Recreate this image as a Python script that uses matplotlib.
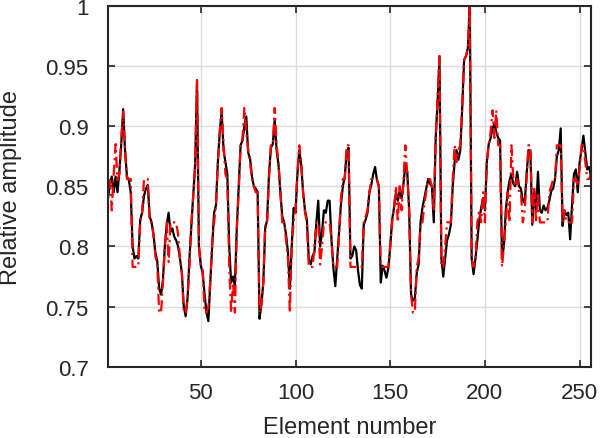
import matplotlib
matplotlib.use("Agg")
from matplotlib import pyplot as plt

plt.rcParams['font.family'] = ['Liberation Sans', 'DejaVu Sans']

# amplitude per element, black = reference, red = quantized
amp_ref = [
    0.840, 0.852, 0.858, 0.845, 0.858, 0.845, 0.862, 0.885, 0.914, 0.880,
    0.858, 0.855, 0.845, 0.800, 0.790, 0.792, 0.790, 0.822, 0.828, 0.842,
    0.848, 0.851, 0.825, 0.820, 0.810, 0.795, 0.788, 0.765, 0.760, 0.772,
    0.800, 0.818, 0.828, 0.812, 0.815, 0.808, 0.805, 0.800, 0.790, 0.778,
    0.750, 0.742, 0.757, 0.790, 0.817, 0.842, 0.868, 0.938, 0.800, 0.784,
    0.778, 0.760, 0.745, 0.738, 0.770, 0.800, 0.828, 0.834, 0.870, 0.895,
    0.912, 0.880, 0.870, 0.860, 0.800, 0.770, 0.775, 0.768, 0.815, 0.850,
    0.884, 0.888, 0.900, 0.908, 0.878, 0.873, 0.858, 0.850, 0.848, 0.845,
    0.740, 0.752, 0.770, 0.815, 0.822, 0.860, 0.882, 0.885, 0.905, 0.880,
    0.868, 0.845, 0.825, 0.820, 0.810, 0.795, 0.765, 0.800, 0.832, 0.828,
    0.860, 0.880, 0.868, 0.845, 0.830, 0.822, 0.790, 0.785, 0.792, 0.795,
    0.820, 0.838, 0.800, 0.812, 0.830, 0.828, 0.838, 0.838, 0.805, 0.782,
    0.767, 0.790, 0.812, 0.835, 0.850, 0.858, 0.878, 0.882, 0.790, 0.792,
    0.800, 0.797, 0.780, 0.768, 0.765, 0.818, 0.822, 0.828, 0.845, 0.851,
    0.860, 0.866, 0.855, 0.850, 0.770, 0.784, 0.780, 0.774, 0.782, 0.800,
    0.822, 0.832, 0.845, 0.838, 0.846, 0.840, 0.852, 0.868, 0.862, 0.830,
    0.760, 0.755, 0.757, 0.778, 0.785, 0.820, 0.832, 0.840, 0.848, 0.856,
    0.852, 0.850, 0.820, 0.890, 0.920, 0.958, 0.790, 0.775, 0.790, 0.805,
    0.810, 0.818, 0.850, 0.870, 0.880, 0.872, 0.880, 0.915, 0.955, 0.958,
    0.965, 1.000, 0.790, 0.777, 0.790, 0.805, 0.822, 0.832, 0.840, 0.830,
    0.870, 0.885, 0.890, 0.898, 0.902, 0.895, 0.890, 0.888, 0.790, 0.800,
    0.830, 0.845, 0.855, 0.860, 0.852, 0.850, 0.862, 0.850, 0.848, 0.838,
    0.836, 0.860, 0.880, 0.878, 0.818, 0.846, 0.830, 0.862, 0.830, 0.828,
    0.834, 0.830, 0.832, 0.838, 0.846, 0.848, 0.856, 0.875, 0.880, 0.898,
    0.817, 0.830, 0.826, 0.828, 0.806, 0.835, 0.860, 0.864, 0.845, 0.870,
    0.880, 0.892, 0.878, 0.864, 0.866, 0.858,
]

amp_quant = [
    0.855, 0.855, 0.830, 0.860, 0.885, 0.855, 0.860, 0.890, 0.912, 0.880,
    0.856, 0.856, 0.856, 0.783, 0.783, 0.783, 0.783, 0.820, 0.828, 0.856,
    0.856, 0.856, 0.820, 0.820, 0.810, 0.792, 0.785, 0.745, 0.745, 0.770,
    0.800, 0.820, 0.787, 0.820, 0.820, 0.820, 0.820, 0.810, 0.790, 0.778,
    0.745, 0.745, 0.757, 0.783, 0.820, 0.842, 0.868, 0.938, 0.800, 0.784,
    0.780, 0.745, 0.745, 0.750, 0.772, 0.805, 0.820, 0.834, 0.870, 0.895,
    0.915, 0.885, 0.860, 0.856, 0.783, 0.745, 0.770, 0.745, 0.815, 0.845,
    0.884, 0.890, 0.915, 0.895, 0.880, 0.870, 0.856, 0.850, 0.845, 0.845,
    0.745, 0.752, 0.770, 0.820, 0.820, 0.856, 0.884, 0.884, 0.915, 0.884,
    0.870, 0.845, 0.820, 0.820, 0.805, 0.790, 0.745, 0.800, 0.820, 0.830,
    0.862, 0.884, 0.870, 0.845, 0.828, 0.820, 0.783, 0.783, 0.783, 0.800,
    0.820, 0.820, 0.785, 0.800, 0.820, 0.820, 0.820, 0.820, 0.805, 0.783,
    0.783, 0.783, 0.810, 0.840, 0.856, 0.856, 0.884, 0.884, 0.783, 0.783,
    0.783, 0.783, 0.783, 0.783, 0.783, 0.820, 0.825, 0.830, 0.845, 0.856,
    0.856, 0.856, 0.856, 0.850, 0.783, 0.783, 0.783, 0.783, 0.783, 0.800,
    0.820, 0.832, 0.850, 0.820, 0.850, 0.830, 0.856, 0.884, 0.860, 0.830,
    0.760, 0.745, 0.745, 0.783, 0.790, 0.820, 0.820, 0.835, 0.845, 0.856,
    0.856, 0.850, 0.830, 0.890, 0.925, 0.958, 0.783, 0.783, 0.800, 0.820,
    0.820, 0.820, 0.856, 0.884, 0.870, 0.880, 0.884, 0.915, 0.955, 0.958,
    0.965, 1.000, 0.790, 0.783, 0.790, 0.820, 0.830, 0.820, 0.845, 0.820,
    0.870, 0.884, 0.895, 0.913, 0.890, 0.913, 0.884, 0.884, 0.783, 0.800,
    0.820, 0.845, 0.820, 0.884, 0.856, 0.850, 0.856, 0.845, 0.845, 0.820,
    0.830, 0.856, 0.884, 0.884, 0.820, 0.850, 0.820, 0.845, 0.820, 0.820,
    0.820, 0.820, 0.820, 0.845, 0.850, 0.856, 0.856, 0.884, 0.884, 0.884,
    0.820, 0.830, 0.820, 0.820, 0.820, 0.820, 0.856, 0.856, 0.850, 0.865,
    0.884, 0.884, 0.870, 0.856, 0.856, 0.860,
]

elements = list(range(1, len(amp_ref) + 1))

x_ticks = [50, 100, 150, 200, 250]
y_ticks = [0.7, 0.75, 0.8, 0.85, 0.9, 0.95, 1.0]
y_tick_labels = ['0.7', '0.75', '0.8', '0.85', '0.9', '0.95', '1']

fig = plt.figure(figsize=(6.0, 4.39), dpi=100)
ax = fig.add_axes([0.18, 0.162, 0.805, 0.823])

ax.plot(elements, amp_ref, color='black', linewidth=1.6)
ax.plot(elements, amp_quant, color='red', linewidth=1.6,
        linestyle=(0, (5, 2, 1, 2)))

ax.set_xlim(1, 256)
ax.set_ylim(0.7, 1.0)
ax.set_xticks(x_ticks)
ax.set_yticks(y_ticks)
ax.set_yticklabels(y_tick_labels)
ax.tick_params(direction='in', top=True, right=True, labelsize=16,
               length=5, width=1.2, colors='#262626', labelcolor='#262626')
ax.tick_params(axis='x', pad=11)
ax.tick_params(axis='y', pad=14)
ax.grid(True, color='#dcdcdc', linewidth=1.0)
ax.set_axisbelow(True)
for s in ax.spines.values():
    s.set_linewidth(1.5)
    s.set_color('#262626')

ax.set_xlabel('Element number', fontsize=17, color='#262626')
ax.set_ylabel('Relative amplitude', fontsize=17, color='#262626')
ax.xaxis.set_label_coords(0.5, -0.135)
ax.yaxis.set_label_coords(-0.178, 0.5)

fig.savefig('out.png', dpi=100)
